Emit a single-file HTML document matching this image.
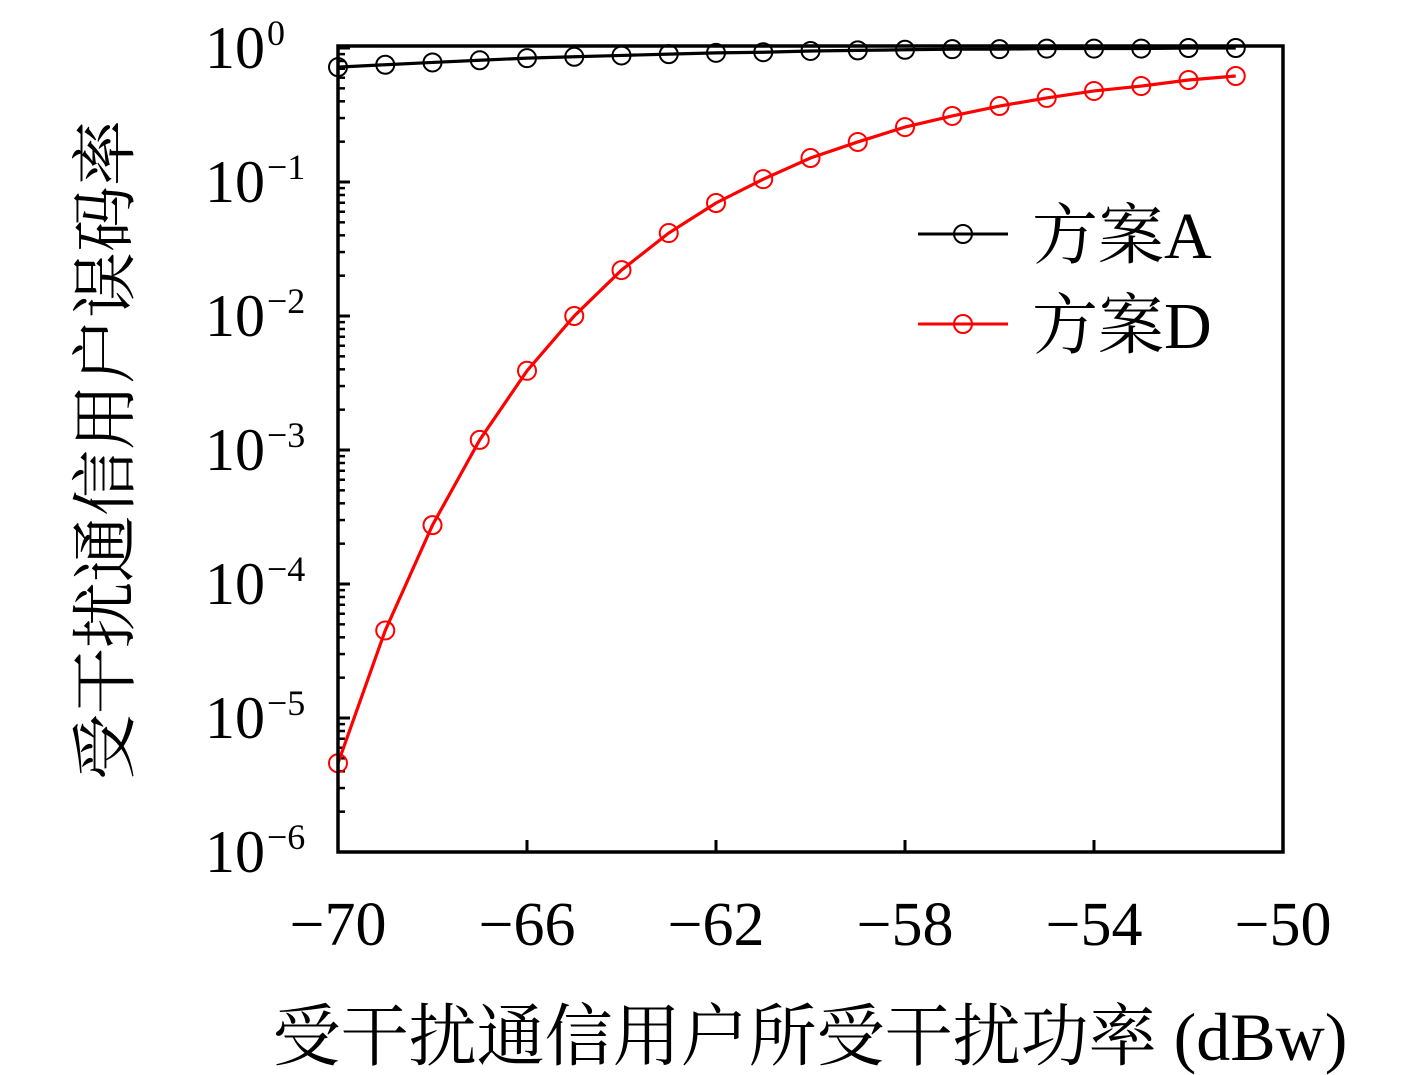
<!DOCTYPE html>
<html><head><meta charset="utf-8"><style>
body{margin:0;background:#fff;}
svg{display:block;font-family:"Liberation Serif","Noto Serif CJK SC",serif;}
</style></head><body>
<svg id="chart" width="1417" height="1075" xmlns="http://www.w3.org/2000/svg"></svg>
<script>
const xValues=[-70,-69,-68,-67,-66,-65,-64,-63,-62,-61,-60,-59,-58,-57,-56,-55,-54,-53,-52,-51];
const seriesA=[0.72,0.75,0.78,0.81,0.84,0.86,0.88,0.90,0.92,0.93,0.95,0.96,0.97,0.98,0.98,0.99,0.99,0.99,1.0,1.0];
const seriesD=[4.6e-6,4.5e-5,2.75e-4,1.19e-3,3.9e-3,1.0e-2,0.022,0.0416,0.0697,0.105,0.151,0.199,0.257,0.311,0.369,0.424,0.478,0.520,0.577,0.618];
const xTicks=[-70,-66,-62,-58,-54,-50];
const yExps=[0,-1,-2,-3,-4,-5,-6];
const seriesNames=["方案A","方案D"];

const NS="http://www.w3.org/2000/svg";
const svg=document.getElementById('chart');
const L=338,R=1283,T=48,B=852;
const X=v=>L+(v+70)/20*(R-L);
const Y=v=>T-Math.log10(v)*(B-T)/6;
function mk(tag,attrs,parent){const e=document.createElementNS(NS,tag);for(const k in attrs)e.setAttribute(k,attrs[k]);(parent||svg).appendChild(e);return e;}

const tg=mk('g',{});


for(const t of xTicks){
  mk('line',{x1:X(t),x2:X(t),y1:B,y2:B-12,stroke:'#000','stroke-width':3},tg);
  const tx=mk('text',{x:X(t),y:945,'font-size':62,'text-anchor':'middle'},tg);
  tx.textContent='\u2212'+Math.abs(t);
  
  
}
for(const e of yExps){
  const y=Y(Math.pow(10,e));
  mk('line',{x1:L,x2:L+12,y1:y,y2:y,stroke:'#000','stroke-width':3},tg);
  if(e>-6){for(let m=2;m<10;m++){const yy=Y(m*Math.pow(10,e-1));mk('line',{x1:L,x2:L+7,y1:yy,y2:yy,stroke:'#000','stroke-width':2.5},tg);}}
  const tx=mk('text',{x:265,y:y+20,'font-size':60,'text-anchor':'end'},tg);
  tx.textContent='10';
  
  
  const sp=mk('text',{x:267,y:y-3,'font-size':36,'text-anchor':'start'},tg);
  sp.textContent=e===0?'0':'\u2212'+Math.abs(e);
  
  
}
function drawSeries(vals,color,name){
  const g=mk('g',{});
  
  
  mk('polyline',{points:vals.map((v,i)=>X(xValues[i])+','+Y(v)).join(' '),fill:'none',stroke:color,'stroke-width':3.2},g);
  vals.forEach((v,i)=>{
    const c=mk('circle',{cx:X(xValues[i]),cy:Y(v),r:9,fill:'none',stroke:color,'stroke-width':2},g);
    
    
  });
}
drawSeries(seriesA,'#000','series-a');
drawSeries(seriesD,'#f00','series-d');
const fr=mk('rect',{x:L,y:46,width:R-L,height:B-46,fill:'none',stroke:'#000','stroke-width':3.5});


const lg=mk('g',{});


[['#000',234],['#f00',324]].forEach((c,i)=>{
  mk('line',{x1:918,x2:1008,y1:c[1],y2:c[1],stroke:c[0],'stroke-width':3},lg);
  mk('circle',{cx:963,cy:c[1],r:9,fill:'none',stroke:c[0],'stroke-width':2},lg);
  const t=mk('text',{x:1032,y:c[1]+24,'font-size':66},lg);
  t.textContent=seriesNames[i];
  
  
});
const xt=mk('text',{x:810,y:1060,'font-size':68,'text-anchor':'middle'});
xt.textContent='受干扰通信用户所受干扰功率 (dBw)';


const yt=mk('text',{x:0,y:0,'font-size':66,'text-anchor':'middle',transform:'translate(128,450) rotate(-90)'});
yt.textContent='受干扰通信用户误码率';


</script>
</body></html>
